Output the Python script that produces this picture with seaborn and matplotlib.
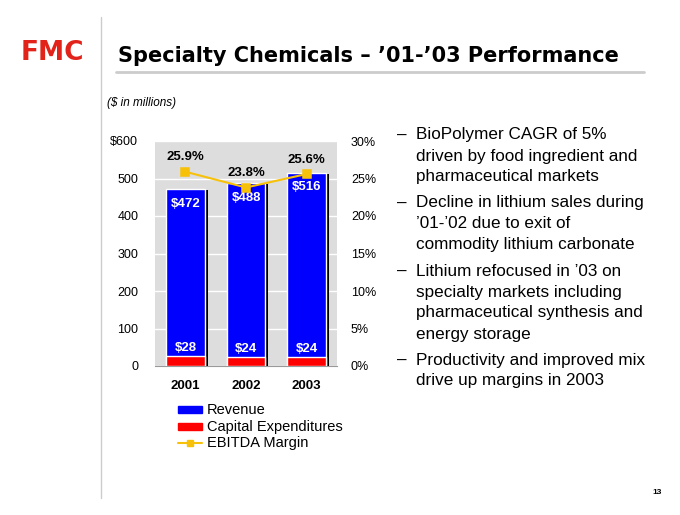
## Specialty Chemicals '01-'03 performance slide

import matplotlib
matplotlib.use("Agg")
import matplotlib.pyplot as plt
import matplotlib.patheffects as pe
import seaborn as sns
import pandas as pd

#----------------------------------------------------
# data
#----------------------------------------------------

years = ["2001", "2002", "2003"]
revenue = [472, 488, 516]
capex = [28, 24, 24]
ebitda_margin = [25.9, 23.8, 25.6]

left_ticks = [0, 100, 200, 300, 400, 500, 600]
left_tick_labels = ["0", "100", "200", "300", "400", "500", "$600"]
right_ticks = [0, 5, 10, 15, 20, 25, 30]
right_tick_labels = ["0%", "5%", "10%", "15%", "20%", "25%", "30%"]

bullets = [
    ["BioPolymer CAGR of 5%", "driven by food ingredient and", "pharmaceutical markets"],
    ["Decline in lithium sales during", "\u201901-\u201902 due to exit of", "commodity lithium carbonate"],
    ["Lithium refocused in \u201903 on", "specialty markets including",
     "pharmaceutical synthesis and", "energy storage"],
    ["Productivity and improved mix", "drive up margins in 2003"],
]

BLUE = "#0000FF"
RED = "#FF0000"
GOLD = "#F7C10A"
BG = "#DDDDDD"

#----------------------------------------------------
# main
#----------------------------------------------------

def main():
    sns.set_style("white")
    plt.rcParams["font.family"] = ["Liberation Sans", "DejaVu Sans"]
    plt.rcParams["text.color"] = "black"
    plt.rcParams["xtick.color"] = "black"
    plt.rcParams["ytick.color"] = "black"
    plt.rcParams["axes.labelcolor"] = "black"

    df = pd.DataFrame({"year": years, "revenue": revenue, "capex": capex, "margin": ebitda_margin})

    W, H = 680, 515
    fig = plt.figure(figsize=(6.8, 5.15), dpi=100)

    # slide decorations
    fig.text(52 / W, 1 - 53 / H, "FMC", color="#E2231A", fontsize=19, fontweight="bold",
             family="DejaVu Sans", ha="center", va="center")
    fig.text(118 / W, 1 - 56 / H, "Specialty Chemicals \u2013 \u201901-\u201903 Performance",
             fontsize=15, fontweight="bold", family="DejaVu Sans", ha="left", va="center")
    fig.add_artist(plt.Line2D([116 / W, 644 / W], [1 - 72 / H, 1 - 72 / H], color="#CCCCCC", lw=2))
    fig.add_artist(plt.Line2D([101 / W, 101 / W], [1 - 17 / H, 1 - 498 / H], color="#CCCCCC", lw=1))
    fig.text(107 / W, 1 - 103 / H, "($ in millions)", fontsize=8.5, style="italic", ha="left", va="center")
    fig.text(657 / W, 1 - 492 / H, "13", fontsize=6, fontweight="bold", ha="center", va="center")

    # chart
    ax = fig.add_axes([155 / W, 1 - 366 / H, 182 / W, 225 / H])
    ax.set_facecolor(BG)

    shadow = [pe.SimplePatchShadow(offset=(2, -1), shadow_rgbFace="black", alpha=1.0), pe.Normal()]
    sns.barplot(data=df, x="year", y="revenue", color=BLUE, saturation=1, width=0.64, ax=ax, zorder=3)
    for p in ax.patches:
        p.set_path_effects(shadow)
    n_rev = len(ax.patches)
    sns.barplot(data=df, x="year", y="capex", color=RED, saturation=1, width=0.64, ax=ax, zorder=4)

    ax.set_ylim(0, 600)
    ax.set_xlim(-0.5, 2.5)
    ax.set_yticks(left_ticks)
    ax.set_yticklabels(left_tick_labels, fontsize=9)
    ax.tick_params(axis="y", length=0, pad=12)
    ax.tick_params(axis="x", length=0, pad=10)
    ax.set_xticks(range(len(years)))
    ax.set_xticklabels(years, fontsize=9.5, fontweight="bold")
    ax.set_xlabel("")
    ax.set_ylabel("")
    ax.grid(axis="y", color="white", lw=1, zorder=0)
    ax.set_axisbelow(True)
    for s in ["top", "right", "left"]:
        ax.spines[s].set_visible(False)
    ax.spines["bottom"].set_color("#999999")

    for i, p in enumerate(ax.patches[:n_rev]):
        ax.text(p.get_x() + p.get_width() / 2, revenue[i] - 40, "$%d" % revenue[i], color="white",
                fontsize=9.5, fontweight="bold", ha="center", va="center", zorder=6)
    for i, p in enumerate(ax.patches[n_rev:]):
        ax.text(p.get_x() + p.get_width() / 2, capex[i] + 20, "$%d" % capex[i], color="white",
                fontsize=9.5, fontweight="bold", ha="center", va="center", zorder=6)

    ax2 = ax.twinx()
    sns.pointplot(data=df, x="year", y="margin", color=GOLD, markers="s", linestyles="-",
                  markersize=6, linewidth=1.5, ax=ax2, zorder=7)
    ax2.set_ylim(0, 30)
    ax2.set_xlim(-0.5, 2.5)
    ax2.set_yticks(right_ticks)
    ax2.set_yticklabels(right_tick_labels, fontsize=9)
    ax2.tick_params(axis="y", length=0, pad=10)
    ax2.set_ylabel("")
    for s in ["top", "right", "left", "bottom"]:
        ax2.spines[s].set_visible(False)
    for i, v in enumerate(ebitda_margin):
        ax2.text(i, v + 1.9, "%.1f%%" % v, fontsize=9.5, fontweight="bold", ha="center", va="center", zorder=8)

    # legend
    lx, ly0, dy = 178 / W, 1 - 410 / H, 16.5 / H
    fig.patches.append(plt.Rectangle((lx, ly0 - 3 / H), 24 / W, 7 / H, color=BLUE, transform=fig.transFigure))
    fig.patches.append(plt.Rectangle((lx, ly0 - dy - 3 / H), 24 / W, 7 / H, color=RED, transform=fig.transFigure))
    fig.add_artist(plt.Line2D([lx, lx + 24 / W], [ly0 - 2 * dy, ly0 - 2 * dy], color=GOLD, lw=1.5,
                              transform=fig.transFigure))
    fig.add_artist(plt.Line2D([lx + 12 / W], [ly0 - 2 * dy], color=GOLD, marker="s", markersize=5,
                              transform=fig.transFigure))
    for k, lab in enumerate(["Revenue", "Capital Expenditures", "EBITDA Margin"]):
        fig.text(207 / W, ly0 - k * dy, lab, fontsize=10.5, ha="left", va="center")

    # bullets
    y = 135
    for b in bullets:
        fig.text(397 / W, 1 - y / H, "\u2013", fontsize=12.3, ha="left", va="center")
        for line in b:
            fig.text(416 / W, 1 - y / H, line, fontsize=12.3, ha="left", va="center")
            y += 21
        y += 5

    fig.savefig("out.png", dpi=100)
    return


if __name__ == '__main__':
    main()
